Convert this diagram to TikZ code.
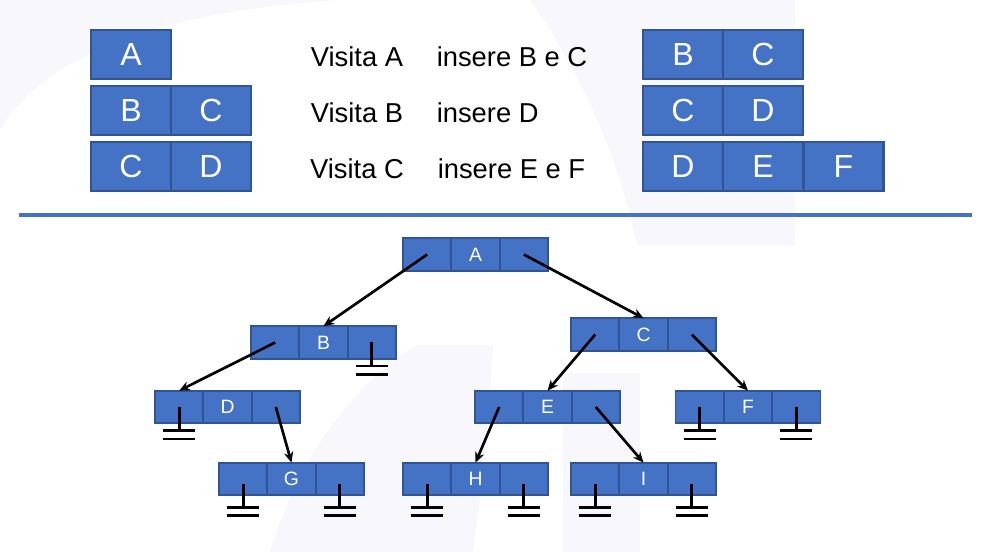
\documentclass[tikz,border=0pt]{standalone}
\usepackage{fontspec}
\setmainfont{Liberation Sans}
\usetikzlibrary{arrows.meta,calc}
\definecolor{cellfill}{HTML}{4472C4}
\definecolor{celldraw}{HTML}{2F5597}
\definecolor{wm}{HTML}{F8F8FC}
\tikzset{
  qcell/.style={rectangle, draw=celldraw, fill=cellfill, line width=1.6pt,
    minimum width=60pt, minimum height=36.75pt, inner sep=0pt, outer sep=0pt,
    text=white, font=\fontsize{24}{24}\selectfont},
  tcell/.style={rectangle, draw=celldraw, fill=cellfill, line width=1.4pt,
    minimum width=36.25pt, minimum height=24.5pt, inner sep=0pt, outer sep=0pt,
    text=white, font=\fontsize{14.5}{14.5}\selectfont},
  vtext/.style={anchor=base, font=\fontsize{20.5}{20.5}\selectfont, inner sep=0pt},
  itext/.style={anchor=base west, font=\fontsize{20.5}{20.5}\selectfont, inner sep=0pt},
  link/.style={line width=2pt, -{Stealth[length=8pt,width=7pt]}},
  gline/.style={line width=2.2pt},
  sepline/.style={line width=2.3pt, draw=cellfill}
}
\newcommand{\tnode}[3]{%
  \node[tcell] (#1) at (#2) {#3};
  \node[tcell] (#1-l) at ($(#1)+(-48.3,0)$) {};
  \node[tcell] (#1-r) at ($(#1)+(48.3,0)$) {};
}
\newcommand{\earth}[3]{%
  \draw[gline] ($(#1.center)+(0,#2)$) -- ($(#1.center)+(0,#3)$);
  \draw[gline] ($(#1.center)+(-16,#3)$) -- ($(#1.center)+(16,#3)$);
  \draw[gline] ($(#1.center)+(-16,#3+8.5)$) -- ($(#1.center)+(16,#3+8.5)$);
}
\begin{document}
\begin{tikzpicture}[x=0.75pt,y=-0.75pt]
\useasboundingbox (0,0) rectangle (997,552);
\fill[white] (0,0) rectangle (997,552);
% faint watermark
\fill[wm] (0,0) -- (0,130) .. controls (40,60) and (150,12) .. (340,0) -- cycle;
\fill[wm] (530,0) .. controls (580,70) and (620,160) .. (637,246) -- (795,246) -- (795,0) -- cycle;
\fill[wm] (270,552) .. controls (300,450) and (360,380) .. (417,345) -- (493,345) .. controls (490,420) and (480,500) .. (473,552) -- cycle;
\fill[wm] (563,373) rectangle (640,552);
% queue rows left
\node[qcell] (qa1) at (131,54.5) {A};
\node[qcell] (qb1) at (131,110.5) {B};
\node[qcell] (qb2) at (211,110.5) {C};
\node[qcell] (qc1) at (131,166.5) {C};
\node[qcell] (qc2) at (211,166.5) {D};
% texts
\node[vtext] (v1) at (357,66.7) {Visita A};
\node[itext] (i1) at (436.5,66.7) {insere B e C};
\node[vtext] (v2) at (357,122.7) {Visita B};
\node[itext] (i2) at (436.5,122.7) {insere D};
\node[vtext] (v3) at (357,178.7) {Visita C};
\node[itext] (i3) at (437.5,178.7) {insere E e F};
% queue rows right
\node[qcell] (ra1) at (683,54.5) {B};
\node[qcell] (ra2) at (763,54.5) {C};
\node[qcell] (rb1) at (683,110.5) {C};
\node[qcell] (rb2) at (763,110.5) {D};
\node[qcell] (rc1) at (683,166.5) {D};
\node[qcell] (rc2) at (763,166.5) {E};
\node[qcell] (rc3) at (843.5,166.5) {F};
% separator
\coordinate (s1) at (19,215);
\coordinate (s2) at (972,215);
\draw[sepline] (s1) -- (s2);
% tree
\tnode{A}{475.5,254.5}{A}
\tnode{B}{323.5,342.5}{B}
\tnode{C}{643.5,334.5}{C}
\tnode{D}{227.5,407}{D}
\tnode{E}{547.5,407}{E}
\tnode{F}{748,407}{F}
\tnode{G}{291.5,479}{G}
\tnode{H}{475.5,479}{H}
\tnode{I}{643.5,479}{I}
% links
\draw[link] (A-l.center) -- (B.north);
\draw[link] (A-r.center) -- (C.north);
\draw[link] (B-l.center) -- (D-l.north);
\draw[link] (C-l.center) -- (E.north);
\draw[link] (C-r.center) -- (F.north);
\draw[link] (D-r.center) -- (G.north);
\draw[link] (E-l.center) -- (H.north);
\draw[link] (E-r.center) -- (I.north);
% grounds
\earth{B-r}{0}{23.5}
\earth{D-l}{0}{23.5}
\earth{F-l}{0}{23.5}
\earth{F-r}{0}{23.5}
\earth{G-l}{5}{28.3}
\earth{G-r}{5}{28.3}
\earth{H-l}{5}{28.3}
\earth{H-r}{5}{28.3}
\earth{I-l}{5}{28.3}
\earth{I-r}{5}{28.3}
\end{tikzpicture}
\end{document}
